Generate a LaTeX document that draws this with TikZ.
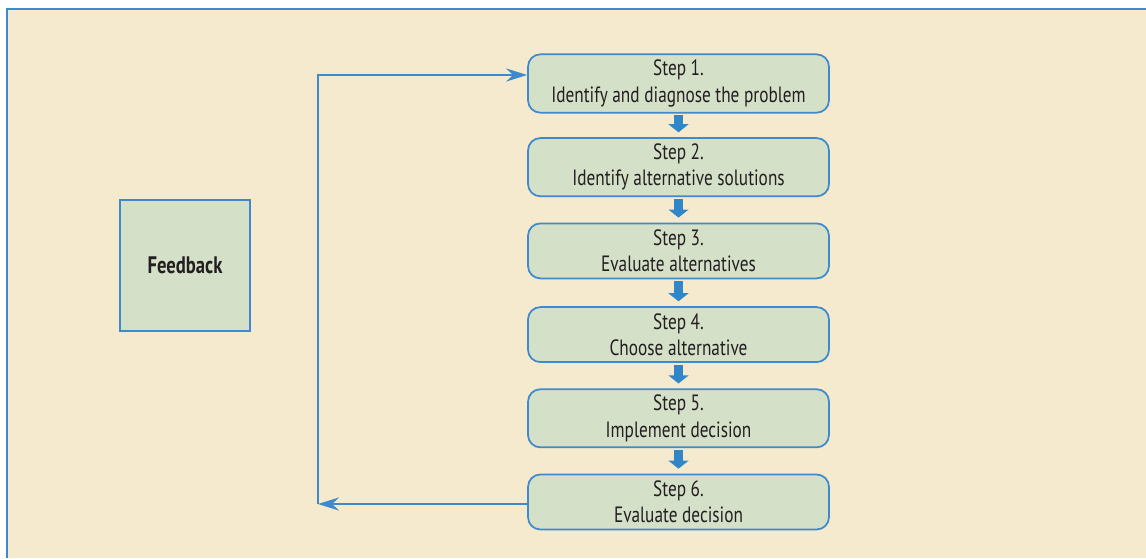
\documentclass[tikz,border=0pt]{standalone}
\usepackage{fontspec}
\setmainfont{PT Sans}[FakeStretch=0.78]
\usetikzlibrary{arrows.meta}

\definecolor{paper}{HTML}{F5EACD}
\definecolor{boxfill}{HTML}{D5E0C9}
\definecolor{edgeblue}{HTML}{3E8ACC}
\definecolor{arrowblue}{HTML}{2F86C8}
\definecolor{ink}{HTML}{231F20}

\tikzset{
  stepbox/.style={draw=edgeblue, line width=1pt, fill=boxfill, rounded corners=7pt,
    minimum width=6.02cm, minimum height=1.1cm, align=center, text=ink,
    font=\fontsize{12.6}{14.9}\selectfont},
  fbbox/.style={draw=edgeblue, line width=1pt, fill=boxfill,
    minimum width=2.6cm, minimum height=2.62cm, text=ink,
    font=\fontsize{13.6}{15}\selectfont\bfseries},
  downarrow/.style={arrowblue, line width=5.1pt, shorten <=1.1pt, shorten >=2.8pt,
    -{Triangle[width=11.3pt, length=4.6pt]}},
  loopline/.style={edgeblue, line width=0.85pt, -{Stealth[length=12pt, width=7.5pt, inset=4pt]}}
}

\begin{document}
\begin{tikzpicture}[x=0.02cm, y=-0.02cm]
\useasboundingbox (0,0) rectangle (1146,558);
\fill[paper] (7,9) rectangle (1146,558);
\draw[edgeblue, line width=1.2pt] (7,558) -- (7,9) -- (1146,9);

% the six steps
\node[stepbox] (s1) at (678.5,83.5) {Step 1.\\Identify and diagnose the problem};
\node[stepbox] (s2) at (678.5,167.2) {Step 2.\\Identify alternative solutions};
\node[stepbox] (s3) at (678.5,250.9) {Step 3.\\Evaluate alternatives};
\node[stepbox] (s4) at (678.5,334.6) {Step 4.\\Choose alternative};
\node[stepbox] (s5) at (678.5,418.3) {Step 5.\\Implement decision};
\node[stepbox] (s6) at (678.5,502) {Step 6.\\Evaluate decision};

\foreach \a/\b in {s1/s2, s2/s3, s3/s4, s4/s5, s5/s6}
  \draw[downarrow] (\a.south) -- (\b.north);

\node[fbbox] (fb) at (185,265.5) {Feedback};

% loop back to step 1
\coordinate (fbbot) at (318,504);
\coordinate (fbtop) at (318,75);
\draw[loopline] (s6.west |- fbbot) -- (fbbot);
\draw[loopline] (fbbot) -- (fbtop) -- (s1.west |- fbtop);
\end{tikzpicture}
\end{document}
